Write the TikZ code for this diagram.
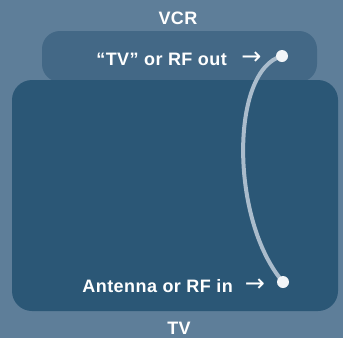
\documentclass[tikz,border=0pt]{standalone}
\usepackage{fontspec}
\setmainfont{Liberation Sans}[LetterSpace=2.5]
\newfontfamily\arrowfont{DejaVu Sans}
\definecolor{bgc}{RGB}{94,126,153}
\definecolor{vcrc}{RGB}{67,104,134}
\definecolor{tvc}{RGB}{43,87,118}
\definecolor{cablec}{RGB}{170,188,204}
\definecolor{jackc}{RGB}{242,245,248}
\tikzset{
  lbl/.style={text=white,font=\bfseries\fontsize{18}{21}\selectfont,inner sep=0pt},
  arr/.style={text=white,font=\arrowfont\fontsize{24}{26}\selectfont,inner sep=0pt},
  jack/.style={circle,fill=jackc,minimum size=12pt,inner sep=0pt},
  cable/.style={draw=cablec,line width=4pt,line cap=round}
}
\begin{document}
\begin{tikzpicture}[x=1pt,y=-1pt]
\fill[bgc] (0,0) rectangle (343,338);
\useasboundingbox (0,0) rectangle (343,338);
\fill[vcrc,rounded corners=18pt] (42,31) rectangle (317,82);
\fill[tvc,rounded corners=20pt] (12,80) rectangle (338,311);
\node[lbl,anchor=base] (vcr) at (178,24) {VCR};
\node[lbl,anchor=base] (tv) at (179,334.5) {TV};
\node[lbl,anchor=base east] (out) at (227,65) {“TV” or RF out};
\node[lbl,anchor=base east] (in) at (233,292) {Antenna or RF in};
\node[arr] (a1) at (251.5,58.5) {→};
\node[arr] (a2) at (255,285) {→};
\coordinate (p) at (282,56);
\coordinate (q) at (283,282);
\draw[cable] (p) .. controls (230,70) and (230,220) .. (q);
\node[jack] (j1) at (p) {};
\node[jack] (j2) at (q) {};
\end{tikzpicture}
\end{document}
